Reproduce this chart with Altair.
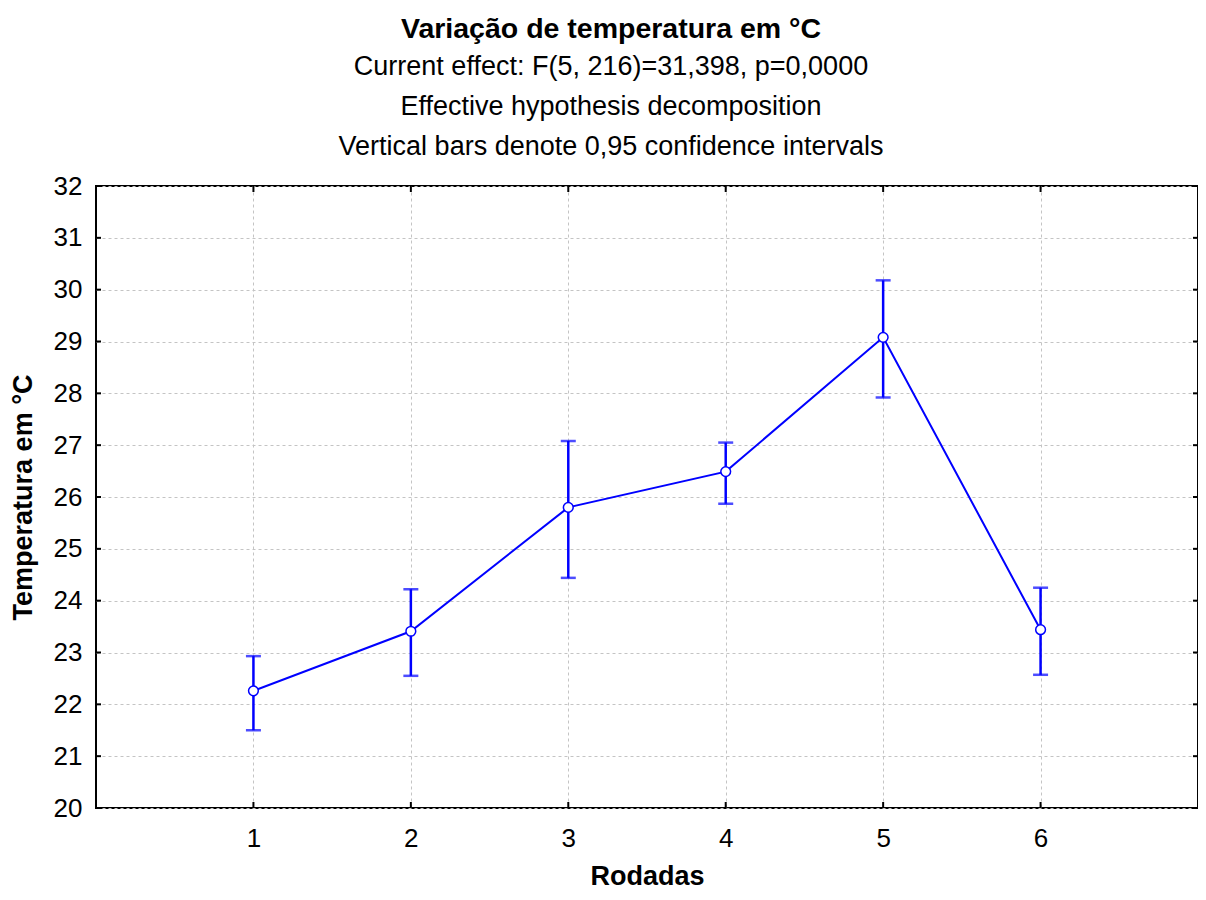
import altair as alt
import pandas as pd

# Data
rodadas = [1, 2, 3, 4, 5, 6]
media = [22.26, 23.41, 25.80, 26.49, 29.08, 23.44]
limite_sup = [22.93, 24.22, 27.08, 27.05, 30.18, 24.25]
limite_inf = [21.50, 22.55, 24.44, 25.87, 27.92, 22.57]
y_ticks = list(range(20, 33))
x_ticks = rodadas

titulo = "Variação de temperatura em °C"
subtitulo = [
    "Current effect: F(5, 216)=31,398, p=0,0000",
    "Effective hypothesis decomposition",
    "Vertical bars denote 0,95 confidence intervals",
]

df = pd.DataFrame({"Rodadas": rodadas, "media": media, "sup": limite_sup, "inf": limite_inf})
ydf = pd.DataFrame({"v": y_ticks})
xdf = pd.DataFrame({"r": x_ticks})

W, H = 1102, 622
BLUE = "#0000FF"
FONT = "Liberation Sans"

xscale = alt.Scale(domain=[0, 7], nice=False, zero=False)
yscale = alt.Scale(domain=[20, 32], nice=False, zero=False)

base = alt.Chart(df)

line = base.mark_line(color=BLUE, strokeWidth=2).encode(
    x=alt.X("Rodadas:Q", scale=xscale,
            axis=alt.Axis(values=x_ticks, title="Rodadas", grid=True, ticks=False, domain=False,
                          labelPadding=17, titlePadding=12, format="d")),
    y=alt.Y("media:Q", scale=yscale,
            axis=alt.Axis(values=y_ticks, title="Temperatura em °C", grid=True, ticks=False,
                          domain=False, labelPadding=14, titlePadding=16, format="d")),
)

err = base.mark_rule(color=BLUE, strokeWidth=2.5).encode(
    x="Rodadas:Q", y="inf:Q", y2="sup:Q"
)
cap_top = base.mark_tick(color=BLUE, thickness=2.5, size=15, orient="horizontal").encode(
    x="Rodadas:Q", y="sup:Q"
)
cap_bot = base.mark_tick(color=BLUE, thickness=2.5, size=15, orient="horizontal").encode(
    x="Rodadas:Q", y="inf:Q"
)
pts = base.mark_point(shape="circle", filled=True, fill="white", stroke=BLUE,
                      strokeWidth=1.5, size=95, opacity=1).encode(
    x="Rodadas:Q", y="media:Q"
)

# inward tick marks on all four frame sides
tick_l = alt.Chart(ydf).mark_rule(color="black", strokeWidth=2).encode(
    y="v:Q", x=alt.value(0), x2=alt.value(5))
tick_r = alt.Chart(ydf).mark_rule(color="black", strokeWidth=2).encode(
    y="v:Q", x=alt.value(W - 5), x2=alt.value(W))
tick_b = alt.Chart(xdf).mark_rule(color="black", strokeWidth=2).encode(
    x="r:Q", y=alt.value(H - 6), y2=alt.value(H))
tick_t = alt.Chart(xdf).mark_rule(color="black", strokeWidth=2).encode(
    x="r:Q", y=alt.value(0), y2=alt.value(6))

chart = alt.layer(line, err, cap_top, cap_bot, pts, tick_l, tick_r, tick_b, tick_t).properties(
    width=W,
    height=H,
    background="white",
    title=alt.Title(
        text=titulo,
        subtitle=subtitulo,
        anchor="middle",
        dx=-36,
        font=FONT,
        fontSize=28.5,
        fontWeight="bold",
        color="black",
        subtitleFont=FONT,
        subtitleFontSize=27,
        subtitleColor="black",
        subtitleLineHeight=40,
        subtitlePadding=11,
        offset=13,
    ),
    autosize=alt.AutoSizeParams(type="none"),
    padding={"left": 88, "top": 178, "right": 0, "bottom": 84},
).configure_view(
    stroke="black", strokeWidth=2
).configure_axis(
    gridColor="#c4c4c4",
    gridDash=[3, 3],
    gridWidth=1,
    labelFont=FONT,
    labelFontSize=26,
    labelColor="black",
    titleFont=FONT,
    titleFontSize=27,
    titleFontWeight="bold",
    titleColor="black",
)

chart.save("out.html", embed_options={"renderer": "svg", "actions": False})
